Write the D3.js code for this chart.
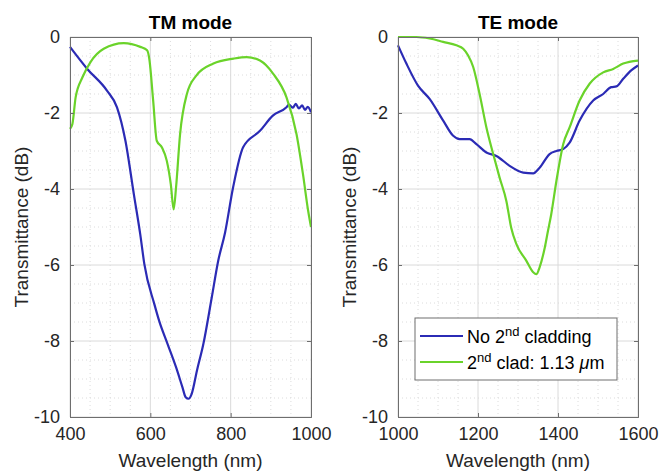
<!DOCTYPE html>
<html>
<head>
<meta charset="utf-8">
<script src="https://cdn.jsdelivr.net/npm/d3@7"></script>
<style>
  body { margin: 0; background: #fff; }
  svg { font-family: "Liberation Sans", Arial, sans-serif; }
  .grid-major line { stroke: #dadada; stroke-width: 1; }
  .grid-minor line { stroke: #dcdcdc; stroke-width: 1; stroke-dasharray: 1,3; }
  .axis path, .axis line { stroke: #6e6e6e; }
  .axis text { fill: #262626; font-size: 18px; }
</style>
</head>
<body>
<svg id="chart" width="660" height="472"></svg>
<script>
// TM mode, no 2nd cladding
var tmNoCladX = [400, 443, 492, 517, 538, 559, 575, 585, 610, 622, 643, 664, 680, 688, 695, 703, 716, 732, 753, 769, 786, 806, 831, 873, 905, 939, 945, 955, 962, 970, 978, 985, 992, 1000];
var tmNoCladY = [-0.26, -0.84, -1.41, -1.85, -2.73, -4.14, -5.2, -5.97, -7.03, -7.47, -8.08, -8.69, -9.22, -9.48, -9.52, -9.39, -8.78, -8.08, -6.85, -5.89, -5.15, -3.96, -2.9, -2.47, -2.07, -1.85, -1.78, -1.86, -1.76, -1.88, -1.80, -1.92, -1.84, -1.98];
// TM mode, 2nd clad 1.13 um
var tmCladX = [400, 406, 414, 431, 451, 484, 534, 575, 592, 598, 607, 616, 629, 641, 651, 658, 664, 674, 691, 715, 757, 807, 840, 873, 906, 939, 964, 980, 993, 1000];
var tmCladY = [-2.42, -2.29, -1.59, -1.06, -0.66, -0.31, -0.16, -0.26, -0.35, -0.62, -1.67, -2.73, -2.91, -3.26, -3.88, -4.54, -3.96, -2.56, -1.5, -1.01, -0.70, -0.57, -0.53, -0.62, -0.97, -1.59, -2.56, -3.61, -4.58, -5.0];
// TE mode, no 2nd cladding
var teNoCladX = [1000, 1021, 1050, 1079, 1113, 1138, 1154, 1179, 1196, 1221, 1246, 1279, 1313, 1338, 1354, 1379, 1396, 1413, 1429, 1454, 1488, 1513, 1533, 1546, 1563, 1583, 1600];
var teNoCladY = [-0.22, -0.70, -1.28, -1.63, -2.20, -2.60, -2.69, -2.69, -2.82, -3.04, -3.13, -3.39, -3.57, -3.59, -3.44, -3.08, -3.0, -2.95, -2.78, -2.20, -1.67, -1.50, -1.32, -1.30, -1.10, -0.88, -0.75];
// TE mode, 2nd clad 1.13 um
var teCladX = [1000, 1046, 1079, 1113, 1146, 1163, 1175, 1188, 1204, 1221, 1238, 1254, 1271, 1283, 1296, 1321, 1338, 1346, 1354, 1367, 1375, 1383, 1396, 1413, 1429, 1454, 1479, 1513, 1538, 1563, 1600];
var teCladY = [0, 0, -0.04, -0.13, -0.22, -0.31, -0.48, -0.79, -1.50, -2.38, -3.08, -3.70, -4.32, -5.02, -5.45, -5.89, -6.19, -6.24, -6.06, -5.54, -5.10, -4.67, -3.79, -2.82, -2.38, -1.67, -1.23, -0.93, -0.84, -0.70, -0.62];

var yTicks = [0, -2, -4, -6, -8, -10];
var tmTicks = [400, 600, 800, 1000];
var teTicks = [1000, 1200, 1400, 1600];
var colors = ["#2b2bb5", "#6ad32a"];

var svg = d3.select("#chart");

function zip(xs, ys) {
  return xs.map(function(x, i) { return [x, ys[i]]; });
}

function drawPanel(left, right, title, xDomain, xTicks, blue, green) {
  var top = 37, bottom = 417;
  var x = d3.scaleLinear().domain(xDomain).range([left, right]);
  var y = d3.scaleLinear().domain([-10, 0]).range([bottom, top]);
  var g = svg.append("g");

  // minor grid
  var xMinor = d3.range(xDomain[0], xDomain[1] + 1, 50).filter(function(v) { return xTicks.indexOf(v) < 0; });
  var yMinor = d3.range(-10, 0.01, 0.5).filter(function(v) { return yTicks.indexOf(v) < 0; });
  var minor = g.append("g").attr("class", "grid-minor");
  minor.selectAll(".vx").data(xMinor).enter().append("line")
    .attr("x1", x).attr("x2", x).attr("y1", top).attr("y2", bottom);
  minor.selectAll(".hy").data(yMinor).enter().append("line")
    .attr("x1", left).attr("x2", right).attr("y1", y).attr("y2", y);

  var major = g.append("g").attr("class", "grid-major");
  major.selectAll(".vx").data(xTicks).enter().append("line")
    .attr("x1", x).attr("x2", x).attr("y1", top).attr("y2", bottom);
  major.selectAll(".hy").data(yTicks).enter().append("line")
    .attr("x1", left).attr("x2", right).attr("y1", y).attr("y2", y);

  var line = d3.line()
    .x(function(d) { return x(d[0]); })
    .y(function(d) { return y(d[1]); })
    .curve(d3.curveMonotoneX);

  g.append("path").datum(blue)
    .attr("fill", "none").attr("stroke", colors[0]).attr("stroke-width", 2.2)
    .attr("d", line);
  g.append("path").datum(green)
    .attr("fill", "none").attr("stroke", colors[1]).attr("stroke-width", 2.2)
    .attr("d", line);

  var fmt = function(d) { return String(d); };
  // axes box
  g.append("g").attr("class", "axis")
    .attr("transform", "translate(0," + bottom + ")")
    .call(d3.axisBottom(x).tickValues(xTicks).tickSize(-4).tickPadding(10).tickFormat(fmt));
  g.append("g").attr("class", "axis")
    .attr("transform", "translate(" + left + ",0)")
    .call(d3.axisLeft(y).tickValues(yTicks).tickSize(-4).tickPadding(10).tickFormat(fmt));
  g.append("g").attr("class", "axis")
    .attr("transform", "translate(0," + top + ")")
    .call(d3.axisTop(x).tickValues(xTicks).tickSize(-4).tickFormat(""));
  g.append("g").attr("class", "axis")
    .attr("transform", "translate(" + right + ",0)")
    .call(d3.axisRight(y).tickValues(yTicks).tickSize(-4).tickFormat(""));

  g.append("text")
    .attr("x", (left + right) / 2).attr("y", 29)
    .attr("text-anchor", "middle")
    .style("font-size", "19px").style("font-weight", "bold").style("fill", "#000")
    .text(title);
  g.append("text")
    .attr("x", (left + right) / 2).attr("y", 467)
    .attr("text-anchor", "middle")
    .style("font-size", "19px").style("fill", "#262626")
    .text("Wavelength (nm)");
  g.append("text")
    .attr("transform", "translate(" + (left - 42) + "," + ((top + bottom) / 2) + ") rotate(-90)")
    .attr("text-anchor", "middle")
    .style("font-size", "19px").style("fill", "#262626")
    .text("Transmittance (dB)");
}

drawPanel(70, 311, "TM mode", [400, 1000], tmTicks, zip(tmNoCladX, tmNoCladY), zip(tmCladX, tmCladY));
drawPanel(398, 638, "TE mode", [1000, 1600], teTicks, zip(teNoCladX, teNoCladY), zip(teCladX, teCladY));

// legend
var legend = svg.append("g").attr("transform", "translate(415,318)");
legend.append("rect")
  .attr("width", 202).attr("height", 62)
  .attr("fill", "#fff").attr("stroke", "#6e6e6e");
colors.forEach(function(c, i) {
  var ly = 18 + i * 26;
  legend.append("line")
    .attr("x1", 5).attr("x2", 48).attr("y1", ly).attr("y2", ly)
    .attr("stroke", c).attr("stroke-width", 2);
  var t = legend.append("text")
    .attr("x", 52).attr("y", ly + 7)
    .style("font-size", "18px").style("fill", "#000");
  if (i === 0) {
    t.append("tspan").text("No 2");
    t.append("tspan").attr("dy", -7).style("font-size", "13px").text("nd");
    t.append("tspan").attr("dy", 7).text(" cladding");
  } else {
    t.append("tspan").text("2");
    t.append("tspan").attr("dy", -7).style("font-size", "13px").text("nd");
    t.append("tspan").attr("dy", 7).text(" clad: 1.13 ");
    t.append("tspan").style("font-style", "italic").text("\u03bc");
    t.append("tspan").text("m");
  }
});
</script>
</body>
</html>
